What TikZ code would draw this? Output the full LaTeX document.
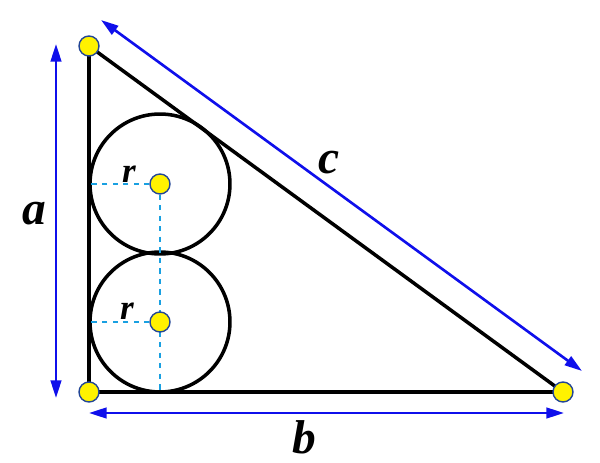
\documentclass[tikz,border=0pt]{standalone}
\usepackage{fontspec}
\setmainfont{Liberation Serif}
\usetikzlibrary{arrows.meta,positioning}
\definecolor{radcol}{RGB}{25,160,225}
\definecolor{dotrim}{RGB}{35,70,150}
\definecolor{arrcol}{RGB}{15,15,235}
\begin{document}
\begin{tikzpicture}[x=0.02cm, y=-0.02cm, >={Triangle[length=10pt,width=6pt]},
        dot/.style={circle, draw=dotrim, fill=yellow, line width=0.8pt, minimum size=0.4cm, inner sep=0pt},
        side/.style={line width=2pt},
        measure/.style={<->, draw=arrcol, line width=1.5pt},
        radline/.style={dashed, draw=radcol, line width=1.1pt},
        lbl/.style={font=\fontsize{27}{30}\selectfont\bfseries\itshape, inner sep=0pt},
        rlbl/.style={lbl, font=\fontsize{20}{24}\selectfont\bfseries\itshape}]
        \useasboundingbox (0,0) rectangle (600,463);

        \coordinate (A) at (89,46);
        \coordinate (B) at (89,392);
        \coordinate (C) at (563,392);
        \coordinate (O1) at (160,184);
        \coordinate (O2) at (160,322);

        \draw[side] (A) -- (B) -- (C) -- cycle;
        \draw[side] (O1) circle[radius=1.4cm];
        \draw[side] (O2) circle[radius=1.4cm];

        \draw[radline] (O1) -- (O1 -| A);
        \draw[radline] (O2) -- (O2 -| A);
        \draw[radline] (O1) -- (O2 |- B);

        \node[dot] (dA) at (A) {};
        \node[dot] (dB) at (B) {};
        \node[dot] (dC) at (C) {};
        \node[dot] (dO1) at (O1) {};
        \node[dot] (dO2) at (O2) {};

        \coordinate (a1) at (56,44);
        \coordinate (a2) at (56,398);
        \coordinate (b1) at (89,413);
        \coordinate (b2) at (564,413);
        \coordinate (c1) at (101,20);
        \coordinate (c2) at (582,371);
        \draw[measure] (a1) -- (a2);
        \draw[measure] (b1) -- (b2);
        \draw[measure] (c1) -- (c2);

        \node[lbl] (la) at (34,214) {a};
        \node[lbl] (lb) at (304,437) {b};
        \node[lbl] (lc) at (329,163) {c};
        \node[rlbl] (lr1) at (129,174) {r};
        \node[rlbl] (lr2) at (127,311) {r};
    \end{tikzpicture}
\end{document}
